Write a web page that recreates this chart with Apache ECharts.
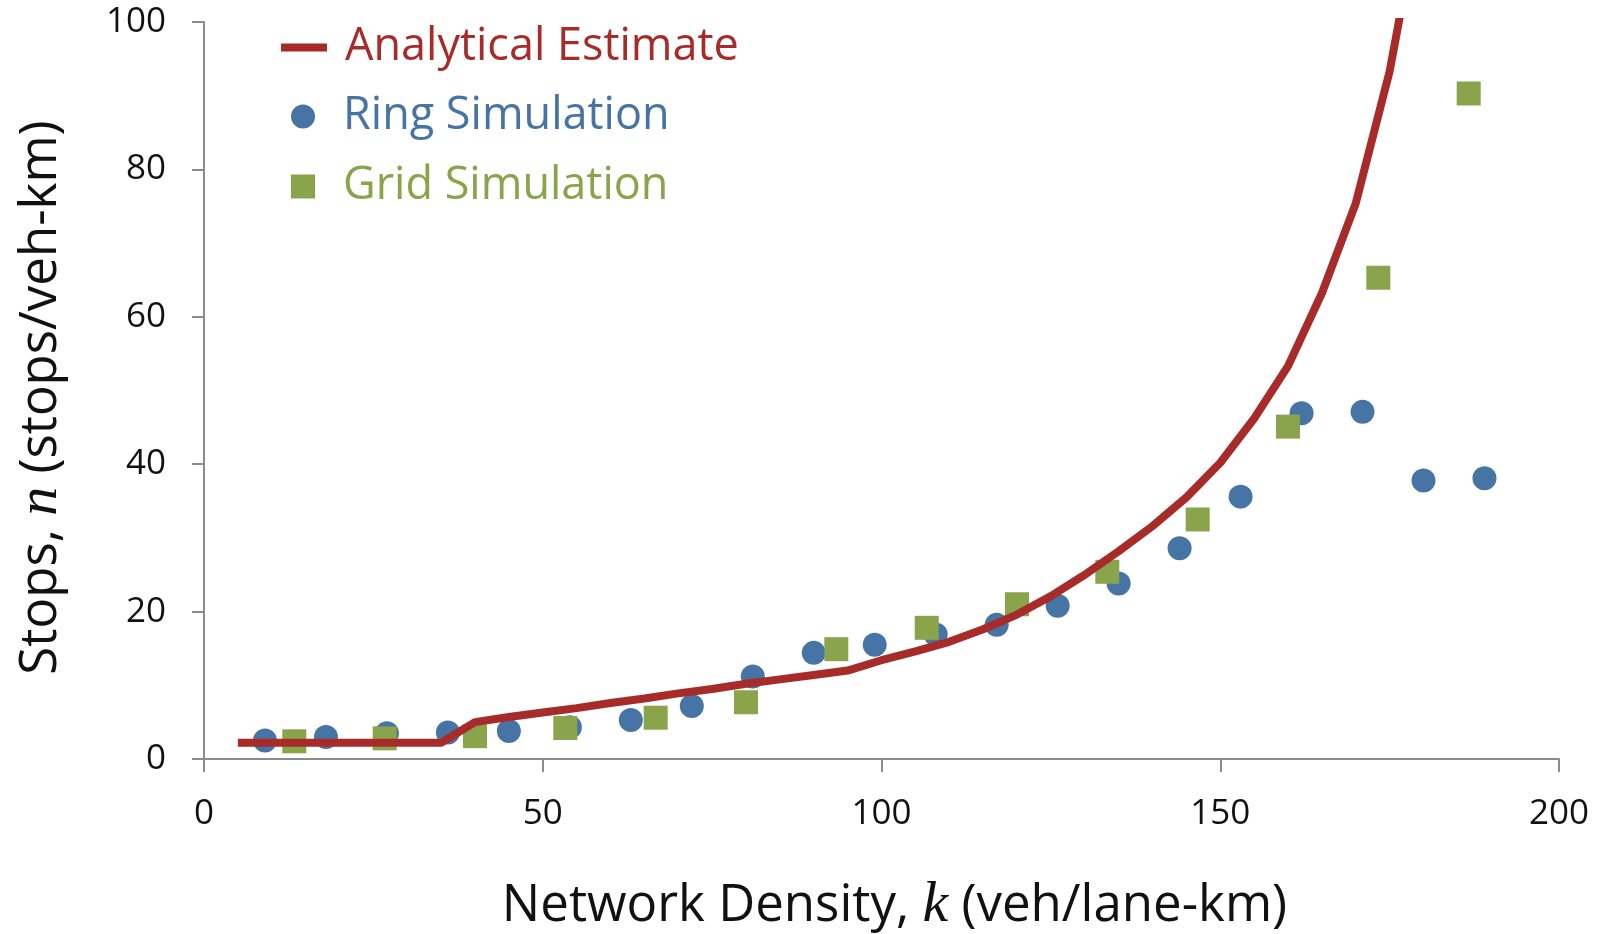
<!DOCTYPE html>
<html>
<head>
<meta charset="utf-8">
<script src="https://cdn.jsdelivr.net/npm/echarts@6/dist/echarts.min.js"></script>
<style>
  html, body { margin: 0; padding: 0; background: #fff; }
  #chart { width: 1598px; height: 934px; }
</style>
</head>
<body>
<div id="chart"></div>
<script>
// analytical estimate curve
const estX = [5, 10, 15, 20, 25, 30, 35, 40, 45, 50, 55, 60, 65, 70, 75, 80, 85, 90, 95,
  100, 105, 110, 115, 120, 125, 130, 135, 140, 145, 150, 155, 160, 165, 170, 175, 180];
const estY = [2.2, 2.2, 2.2, 2.2, 2.2, 2.2, 2.2, 5.0, 5.7, 6.3, 6.9, 7.6, 8.2, 8.9, 9.5, 10.2, 10.8, 11.4, 12.0,
  13.4, 14.6, 15.9, 17.6, 19.6, 22.1, 25.0, 28.2, 31.6, 35.5, 40.2, 46.2, 53.3, 63.2, 75.4, 93.3, 118];

// ring simulation points
const ringX = [9, 18, 27, 36, 45, 54, 63, 72, 81, 90, 99, 108, 117, 126, 135, 144, 153, 162, 171, 180, 189];
const ringY = [2.5, 3.0, 3.5, 3.6, 3.8, 4.3, 5.3, 7.2, 11.2, 14.4, 15.5, 16.9, 18.2, 20.8, 23.8, 28.6, 35.6, 46.9, 47.1, 37.8, 38.1];

// grid simulation points
const gridX = [13.33, 26.67, 40, 53.33, 66.67, 80, 93.33, 106.67, 120, 133.33, 146.67, 160, 173.33, 186.67];
const gridY = [2.4, 2.8, 3.1, 4.2, 5.6, 7.7, 14.9, 17.8, 21.0, 25.4, 32.5, 45.1, 65.3, 90.3];

const names = ['Analytical Estimate', 'Ring Simulation', 'Grid Simulation'];
const colors = ['#a72b29', '#4674a5', '#8aa44b'];

const font = 'Open Sans';
const zip = (xs, ys) => xs.map((x, i) => [x, ys[i]]);

let chart = echarts.init(document.getElementById('chart'), null, { renderer: 'canvas' });

const axisLine = { lineStyle: { color: '#8c8c8c', width: 2 } };

chart.setOption({
  animation: false,
  backgroundColor: '#ffffff',
  // fixed plot area, don't let v6 shrink it to fit the axis names
  grid: { left: 204, right: 39, top: 22, bottom: 175, containLabel: false, outerBoundsMode: 'none' },
  legend: [
    {
      data: [{ name: names[0], icon: 'rect', textStyle: { color: colors[0] } }],
      left: 276, top: 20, itemWidth: 46, itemHeight: 8,
      textStyle: { fontFamily: font, fontSize: 45, padding: [0, 0, 0, 13] }
    },
    {
      data: [{ name: names[1], icon: 'circle', textStyle: { color: colors[1] } }],
      left: 286, top: 89, itemWidth: 24, itemHeight: 24,
      textStyle: { fontFamily: font, fontSize: 45, padding: [0, 0, 0, 23] }
    },
    {
      data: [{ name: names[2], icon: 'rect', textStyle: { color: colors[2] } }],
      left: 286, top: 159, itemWidth: 24, itemHeight: 24,
      textStyle: { fontFamily: font, fontSize: 45, padding: [0, 0, 0, 23] }
    }
  ],
  xAxis: {
    type: 'value', min: 0, max: 200, interval: 50,
    axisLine: axisLine,
    axisTick: { show: true, length: 13, lineStyle: { color: '#8c8c8c', width: 2 } },
    splitLine: { show: false },
    axisLabel: { fontFamily: font, fontSize: 35, color: '#111', margin: 38 },
    name: 'Network Density, {i|k} (veh/lane-km)',
    nameLocation: 'middle', nameGap: 118,
    nameTextStyle: {
      fontFamily: font, fontSize: 51, color: '#111', padding: [0, 0, 0, 26],
      rich: { i: { fontFamily: 'Liberation Serif', fontStyle: 'italic', fontSize: 58, color: '#111' } }
    }
  },
  yAxis: {
    type: 'value', min: 0, max: 100, interval: 20,
    axisLine: { show: true, lineStyle: { color: '#8c8c8c', width: 2 } },
    axisTick: { show: true, length: 12, lineStyle: { color: '#8c8c8c', width: 2 } },
    splitLine: { show: false },
    axisLabel: { fontFamily: font, fontSize: 35, color: '#111', margin: 38, padding: [6, 0, 0, 0] },
    name: 'Stops, {i|n} (stops/veh-km)',
    nameLocation: 'middle', nameGap: 134,
    nameTextStyle: {
      fontFamily: font, fontSize: 51, color: '#111', padding: [0, 14, 0, 0],
      rich: { i: { fontFamily: 'Liberation Serif', fontStyle: 'italic', fontSize: 58, color: '#111' } }
    }
  },
  series: [
    {
      name: names[0], type: 'line', data: zip(estX, estY),
      showSymbol: false, symbol: 'none', clip: true,
      lineStyle: { color: colors[0], width: 8 }, itemStyle: { color: colors[0] }
    },
    {
      name: names[1], type: 'scatter', data: zip(ringX, ringY),
      symbol: 'circle', symbolSize: 24, itemStyle: { color: colors[1], opacity: 1 }
    },
    {
      name: names[2], type: 'scatter', data: zip(gridX, gridY),
      symbol: 'rect', symbolSize: 24, itemStyle: { color: colors[2], opacity: 1 }
    }
  ]
});
</script>
</body>
</html>
